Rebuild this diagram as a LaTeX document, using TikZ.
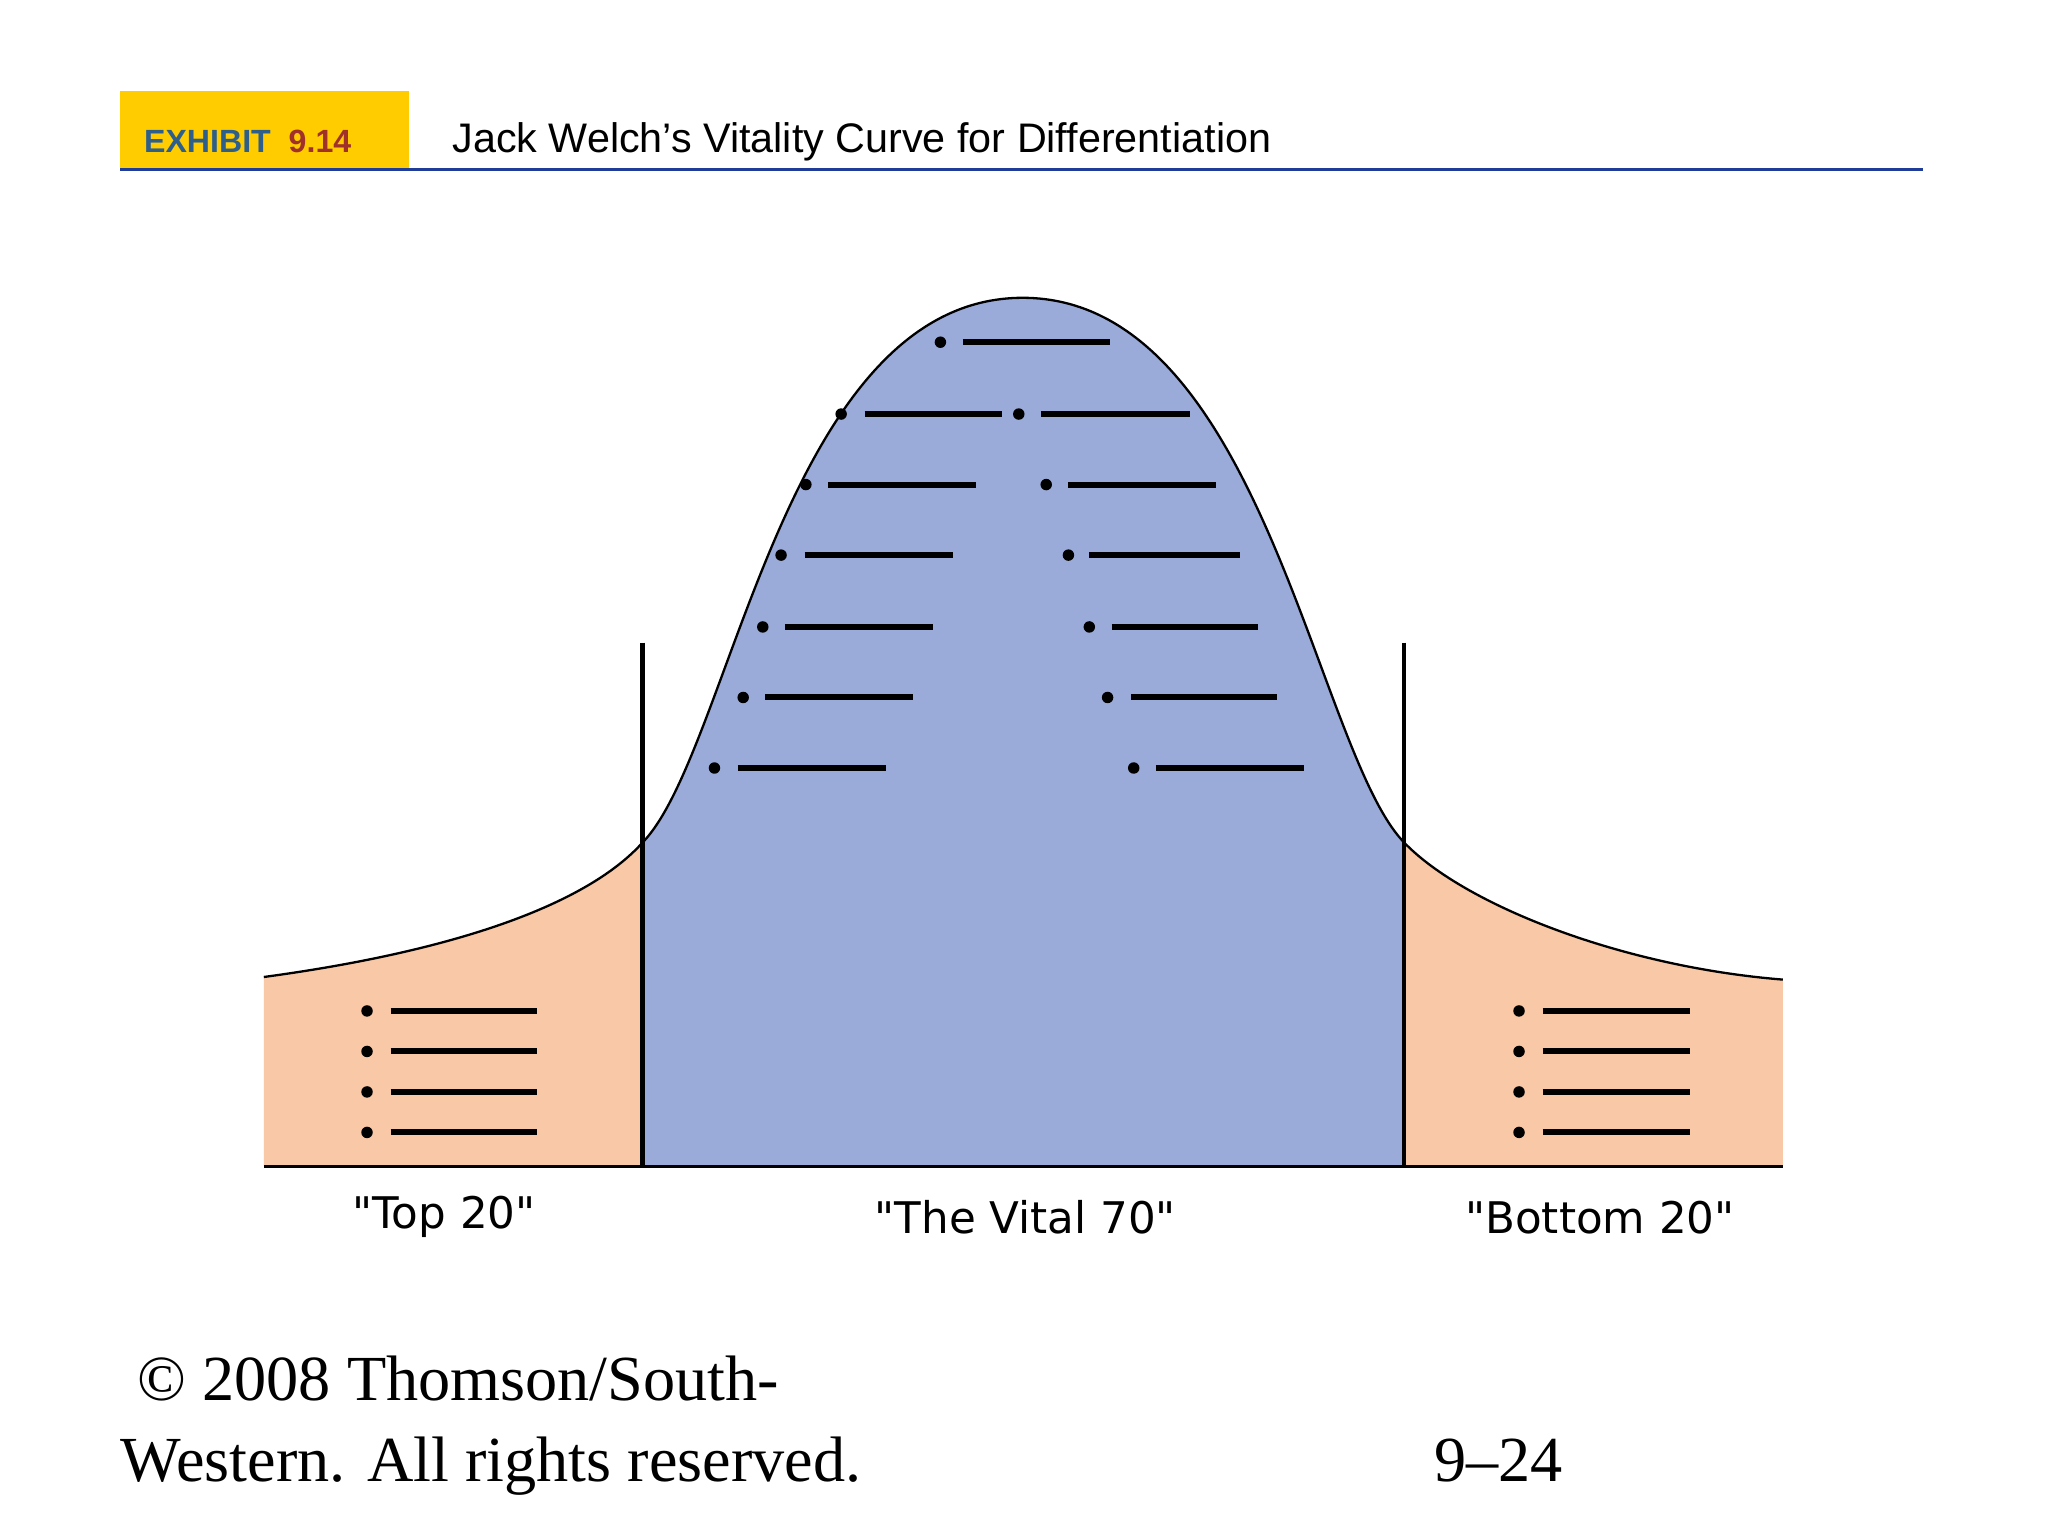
\documentclass[tikz,border=0pt]{standalone}
\usepackage{fontspec}
\setmainfont{Liberation Sans}
\newfontfamily\serifft{Liberation Serif}
\newfontfamily\labft{DejaVu Sans}
\definecolor{vblue}{HTML}{9BABD9}
\definecolor{vorange}{HTML}{F9C8A6}
\definecolor{hyellow}{HTML}{FFCC00}
\definecolor{hblue}{HTML}{2E5F8A}
\definecolor{hred}{HTML}{A0302A}
\definecolor{lblue}{HTML}{1F3C99}
\begin{document}
\begin{tikzpicture}[x=0.02cm,y=-0.02cm,
  bar/.style={line width=2.6pt},
  dotb/.style={fill=black,circle,inner sep=0pt,minimum size=5pt},
  lab/.style={font=\labft\fontsize{19}{22}\selectfont,anchor=center},
  foot/.style={font=\serifft\fontsize{28}{32}\selectfont,anchor=base west,inner sep=0pt}]
\useasboundingbox (0,0) rectangle (1568,1176);
\def\curve{(202,748) .. controls (350,728) and (450,692) .. (492,645) .. controls (560,575) and (600,228) .. (783,228) .. controls (966,228) and (1007,575) .. (1075,645) .. controls (1120,692) and (1240,740) .. (1365,750)}
\fill[vorange] \curve -- (1365,893) -- (202,893) -- cycle;
\begin{scope}
\clip (492,0) rectangle (1075,900);
\fill[vblue] \curve -- (1365,893) -- (202,893) -- cycle;
\end{scope}
\draw[line width=1pt] \curve;
\draw[line width=1pt] (202,893) -- (1365,893);
\draw[line width=2pt] (492,492) -- (492,893);
\draw[line width=2pt] (1075,492) -- (1075,893);
% bullets
\foreach \d/\a/\b/\y in {720/737/850/262, 644/662/767/317, 780/797/911/317, 617/634/747/371, 801/818/931/371, 598/616/730/425, 818/834/949/425, 584/601/714/480, 834/851/963/480, 569/586/699/534, 848/866/978/534, 547/565/678/588, 868/885/998/588}{
  \node[dotb] at (\d,\y) {};
  \draw[bar] (\a,\y) -- (\b,\y);}
\foreach \y in {774,805,836,867}{
  \node[dotb] at (281,\y) {};
  \draw[bar] (299,\y) -- (411,\y);
  \node[dotb] at (1163,\y) {};
  \draw[bar] (1181,\y) -- (1294,\y);}
\node[lab] (t20) at (340,932) {"Top 20"};
\node[lab] (v70) at (785,932) {"The Vital 70"};
\node[lab] (b20) at (1225,932) {"Bottom 20"};
% header
\fill[hyellow] (92,70) rectangle (313,130);
\node[anchor=base west,inner sep=0pt,font=\bfseries\fontsize{14}{16}\selectfont] (ex) at (110,117) {\textcolor{hblue}{EXHIBIT}\ \ \textcolor{hred}{9.14}};
\node[anchor=base west,inner sep=0pt,font=\fontsize{18}{22}\selectfont] (title) at (346,117) {Jack Welch’s Vitality Curve for Differentiation};
\draw[lblue,line width=1.2pt] (92,130) -- (1472,130);
% footer
\node[foot] (f1) at (105,1072) {© 2008 Thomson/South-};
\node[foot] (f2) at (92,1134) {Western. All rights reserved.};
\node[foot] (f3) at (1098,1134) {9–24};
\end{tikzpicture}
\end{document}
